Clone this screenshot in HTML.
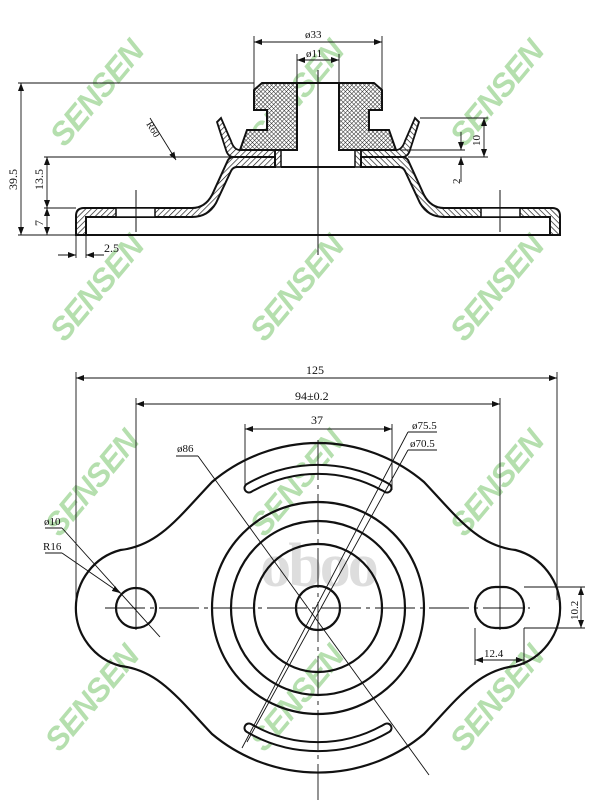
<!DOCTYPE html>
<html><head><meta charset="utf-8"><style>
html,body{margin:0;padding:0;background:#fff;width:606px;height:800px;overflow:hidden}
svg{display:block}
text{font-family:"Liberation Serif",serif;fill:#111}
.wm{font-family:"Liberation Sans",sans-serif;font-weight:bold;font-style:italic;font-size:32px;fill:#b5dfae;letter-spacing:-1px}
</style></head><body>
<svg width="606" height="800" viewBox="0 0 606 800" xmlns="http://www.w3.org/2000/svg">
<defs>
<pattern id="h" width="4" height="4" patternUnits="userSpaceOnUse" patternTransform="rotate(45)"><line x1="0" y1="0" x2="0" y2="4" stroke="#111" stroke-width="1.3"/></pattern>
<pattern id="x" width="3" height="3" patternUnits="userSpaceOnUse" patternTransform="rotate(45)"><rect width="3" height="3" fill="#fff"/><path d="M0 0H3M0 0V3" stroke="#222" stroke-width="1"/></pattern>
<marker id="a" markerWidth="8" markerHeight="6" refX="8" refY="3" orient="auto-start-reverse" markerUnits="userSpaceOnUse"><path d="M0 0L8 3L0 6z" fill="#111"/></marker>
</defs>

<g>
<text class="wm" transform="translate(105,100) rotate(-50)" text-anchor="middle">SENSEN</text>
<text class="wm" transform="translate(305,100) rotate(-50)" text-anchor="middle">SENSEN</text>
<text class="wm" transform="translate(505,100) rotate(-50)" text-anchor="middle">SENSEN</text>
<text class="wm" transform="translate(105,295) rotate(-50)" text-anchor="middle">SENSEN</text>
<text class="wm" transform="translate(305,295) rotate(-50)" text-anchor="middle">SENSEN</text>
<text class="wm" transform="translate(505,295) rotate(-50)" text-anchor="middle">SENSEN</text>
<text class="wm" transform="translate(100,490) rotate(-50)" text-anchor="middle">SENSEN</text>
<text class="wm" transform="translate(305,490) rotate(-50)" text-anchor="middle">SENSEN</text>
<text class="wm" transform="translate(505,490) rotate(-50)" text-anchor="middle">SENSEN</text>
<text class="wm" transform="translate(100,705) rotate(-50)" text-anchor="middle">SENSEN</text>
<text class="wm" transform="translate(305,705) rotate(-50)" text-anchor="middle">SENSEN</text>
<text class="wm" transform="translate(505,705) rotate(-50)" text-anchor="middle">SENSEN</text>
</g>

<g stroke="#111" fill="none">
<line x1="76" y1="235" x2="558" y2="235" stroke-width="2"/>
<g id="half">
 <path d="M76 235 L76 216 Q76 208 84 208 L192 208 Q205 208 212 195 L228 160 Q230 157 234 157 L275 157 L275 167 L237 167 Q233 167 231 171 L216 203 Q208 217 192 217 L86 217 L86 235 Z" fill="url(#h)" stroke-width="2"/>
 <rect x="116" y="208" width="39" height="9" fill="#fff" stroke-width="1.5"/>
 <path d="M217 122 L221 118 L231 141 Q234 150 240 150 L275 150 L275 157 L234 157 Q228 157 226 150 Z" fill="url(#h)" stroke-width="1.8"/>
 <rect x="275" y="150" width="6" height="17" fill="url(#h)" stroke-width="1.5"/>
 <path d="M254 90 L262 83 L297 83 L297 150 L240 150 L247 130 L267 130 L267 110 L254 110 Z" fill="url(#x)" stroke-width="2"/>
 <line x1="281" y1="167" x2="318" y2="167" stroke-width="2"/>
</g>
<use href="#half" transform="translate(636,0) scale(-1,1)"/>
<line x1="297" y1="83" x2="339" y2="83" stroke-width="2"/>
<line x1="318" y1="70" x2="318" y2="255" stroke-width="1"/>
<line x1="136" y1="190" x2="136" y2="232" stroke-width="1"/>
<line x1="500" y1="190" x2="500" y2="232" stroke-width="1"/>
<g stroke-width="0.9">
<line x1="254" y1="36" x2="254" y2="90"/><line x1="382" y1="36" x2="382" y2="90"/>
<line x1="254" y1="42" x2="382" y2="42" marker-start="url(#a)" marker-end="url(#a)"/>
<line x1="297" y1="54" x2="297" y2="83"/><line x1="339" y1="54" x2="339" y2="83"/>
<line x1="297" y1="60" x2="339" y2="60" marker-start="url(#a)" marker-end="url(#a)"/>
<line x1="18" y1="83" x2="254" y2="83"/>
<line x1="44" y1="157" x2="230" y2="157"/>
<line x1="44" y1="208" x2="76" y2="208"/>
<line x1="18" y1="235" x2="76" y2="235"/>
<line x1="21" y1="83" x2="21" y2="235" marker-start="url(#a)" marker-end="url(#a)"/>
<line x1="47" y1="157" x2="47" y2="208" marker-start="url(#a)" marker-end="url(#a)"/>
<line x1="47" y1="208" x2="47" y2="235" marker-start="url(#a)" marker-end="url(#a)"/>
<line x1="76" y1="235" x2="76" y2="258"/><line x1="86" y1="235" x2="86" y2="258"/>
<line x1="58" y1="255" x2="76" y2="255" marker-end="url(#a)"/><line x1="104" y1="255" x2="86" y2="255" marker-end="url(#a)"/>
<line x1="150" y1="118" x2="176" y2="160" marker-end="url(#a)"/>
<line x1="420" y1="118" x2="488" y2="118"/><line x1="408" y1="157" x2="488" y2="157"/><line x1="400" y1="150" x2="465" y2="150"/>
<line x1="484" y1="118" x2="484" y2="157" marker-start="url(#a)" marker-end="url(#a)"/>
<line x1="461" y1="132" x2="461" y2="150" marker-end="url(#a)"/>
<line x1="461" y1="182" x2="461" y2="157" marker-end="url(#a)"/>
</g>
</g>
<g font-size="11">
<text x="305" y="38">ø33</text>
<text x="306" y="57">ø11</text>
<text x="0" y="0" transform="translate(17,190) rotate(-90)" font-size="12">39.5</text>
<text x="0" y="0" transform="translate(43,190) rotate(-90)" font-size="12">13.5</text>
<text x="0" y="0" transform="translate(43,226) rotate(-90)" font-size="12">7</text>
<text x="104" y="252" font-size="12">2.5</text>
<text x="0" y="0" transform="translate(146,124) rotate(58)" font-size="10">R60</text>
<text x="0" y="0" transform="translate(480,146) rotate(-90)" font-size="11">10</text>
<text x="0" y="0" transform="translate(460,184) rotate(-90)" font-size="11">2</text>
</g>

<text x="318" y="586" text-anchor="middle" font-family="Liberation Sans,sans-serif" font-size="62" font-weight="bold" style="fill:#ddd" letter-spacing="-3">oboo</text>
<g stroke="#111" fill="none">
<path d="M318 443 A165 165 0 0 1 424 482 C458 518 478 546 515.5 550 A60 60 0 0 1 515.5 666 C478 670 458 698 424 734 A165 165 0 0 1 212 734 C178 698 158 670 120.5 666 A60 60 0 0 1 120.5 550 C158 546 178 518 212 482 A165 165 0 0 1 318 443 Z" stroke-width="2.2"/>
<circle cx="318" cy="608" r="106" stroke-width="2.2"/>
<circle cx="318" cy="608" r="87" stroke-width="2.2"/>
<circle cx="318" cy="608" r="64" stroke-width="2.2"/>
<circle cx="318" cy="608" r="22" stroke-width="2.2"/>
<circle cx="136" cy="608" r="20" stroke-width="2.2"/>
<rect x="475" y="587" width="49" height="41" rx="20.5" stroke-width="2.2"/>
<path d="M249 488 A137 137 0 0 1 387 488" stroke="#111" stroke-width="11" stroke-linecap="round"/>
<path d="M249 488 A137 137 0 0 1 387 488" stroke="#fff" stroke-width="7" stroke-linecap="round"/>
<path d="M249 728 A137 137 0 0 0 387 728" stroke="#111" stroke-width="11" stroke-linecap="round"/>
<path d="M249 728 A137 137 0 0 0 387 728" stroke="#fff" stroke-width="7" stroke-linecap="round"/>
<g stroke-width="0.9">
<line x1="105" y1="608" x2="530" y2="608" stroke-dasharray="40 5 4 5"/>
<line x1="318" y1="440" x2="318" y2="800" stroke-dasharray="40 5 4 5"/>
<line x1="136" y1="590" x2="136" y2="630"/><line x1="500" y1="590" x2="500" y2="630"/>
<line x1="76" y1="372" x2="76" y2="600"/><line x1="557" y1="372" x2="557" y2="600"/>
<line x1="76" y1="378" x2="557" y2="378" marker-start="url(#a)" marker-end="url(#a)"/>
<line x1="136" y1="398" x2="136" y2="590"/><line x1="500" y1="398" x2="500" y2="590"/>
<line x1="136" y1="404" x2="500" y2="404" marker-start="url(#a)" marker-end="url(#a)"/>
<line x1="245" y1="424" x2="245" y2="490"/><line x1="392" y1="424" x2="392" y2="490"/>
<line x1="245" y1="429" x2="392" y2="429" marker-start="url(#a)" marker-end="url(#a)"/>
<line x1="176" y1="456" x2="198" y2="456"/><line x1="198" y1="456" x2="429" y2="775"/>
<line x1="408" y1="432" x2="437" y2="432"/><line x1="408" y1="432" x2="242" y2="748"/>
<line x1="408" y1="450" x2="437" y2="450"/><line x1="408" y1="450" x2="247" y2="742"/>
<line x1="45" y1="528" x2="62" y2="528"/><line x1="62" y1="528" x2="160" y2="637"/>
<line x1="45" y1="553" x2="62" y2="553"/><line x1="62" y1="553" x2="120" y2="593" marker-end="url(#a)"/>
<line x1="524" y1="587" x2="585" y2="587"/><line x1="524" y1="628" x2="585" y2="628"/>
<line x1="581" y1="587" x2="581" y2="628" marker-start="url(#a)" marker-end="url(#a)"/>
<line x1="475" y1="628" x2="475" y2="665"/><line x1="524" y1="628" x2="524" y2="665"/>
<line x1="475" y1="660" x2="524" y2="660" marker-start="url(#a)" marker-end="url(#a)"/>
</g>
</g>
<g font-size="12">
<text x="306" y="374">125</text>
<text x="295" y="400">94±0.2</text>
<text x="311" y="424">37</text>
<text x="177" y="452" font-size="11">ø86</text>
<text x="412" y="429" font-size="11">ø75.5</text>
<text x="410" y="447" font-size="11">ø70.5</text>
<text x="44" y="525" font-size="11">ø10</text>
<text x="43" y="550" font-size="11">R16</text>
<text x="484" y="657" font-size="11">12.4</text>
<text x="0" y="0" transform="translate(578,620) rotate(-90)" font-size="11">10.2</text>
</g>
</svg>
</body></html>
